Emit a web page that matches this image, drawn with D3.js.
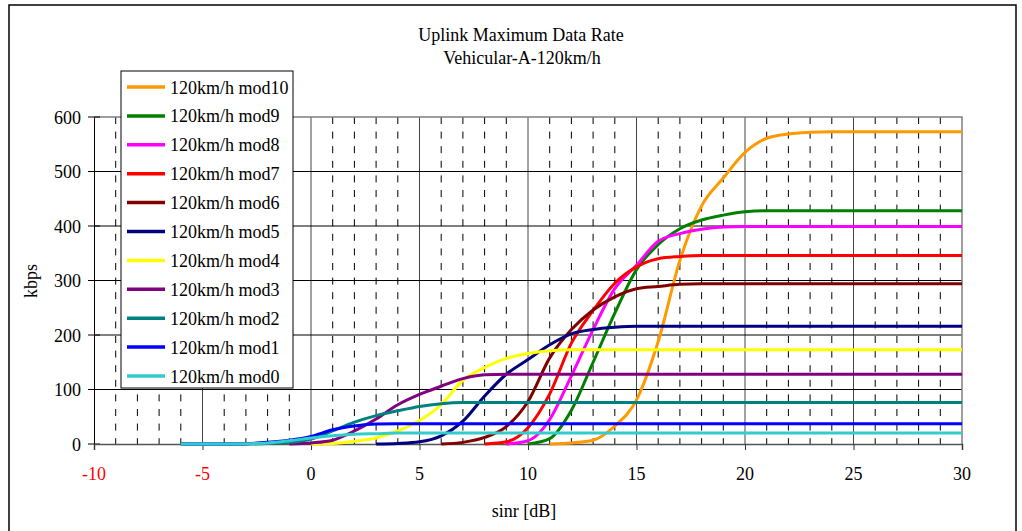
<!DOCTYPE html>
<html lang="en">
<head>
<meta charset="UTF-8">
<title>Uplink Maximum Data Rate</title>
<script src="https://d3js.org/d3.v7.min.js"></script>
<style>
    body { margin: 0; background: #fff; }
    text { font-family: "Liberation Serif", "Times New Roman", serif; fill: #000; }
</style>
</head>
<body>
<div id="chart"></div>

<script>
    // sinr grid (dB), one point per dB
    var sinr = [-6,-5,-4,-3,-2,-1,0,1,2,3,4,5,6,7,8,9,10,11,12,13,14,15,16,17,18,19,20,21,22,23,24,25,26,27,28,29,30];

    var mod0  = [0,0,0,0.5,2,6,11,15,18,19,20, 20,20,20,20,20,20,20,20,20,20,20,20,20,20,20,20,20,20,20,20,20,20,20,20,20,20];
    var mod1  = [0,0,0,0.5,3,7,14,26,33,36.5,37, 37,37,37,37,37,37,37,37,37,37,37,37,37,37,37,37,37,37,37,37,37,37,37,37,37,37];
    var mod2  = [0,0,0,0,1,3,9,24,40,52,61,69,74,76, 76,76,76,76,76,76,76,76,76,76,76,76,76,76,76,76,76,76,76,76,76,76,76];
    var mod3  = [null,null,null,null,null, 0,2,7,24,46,72,91,106,120,127,128, 128,128,128,128,128,128,128,128,128,128,128,128,128,128,128,128,128,128,128,128,128];
    var mod4  = [null,null,null,null,null,null, 0,1,5,11,24,43,72,117,140,157,166,171,173, 173,173,173,173,173,173,173,173,173,173,173,173,173,173,173,173,173,173];
    var mod5  = [null,null,null,null,null,null,null,null,null, 0,1,4,15,42,88,128,155,182,202,210,214,216, 216,216,216,216,216,216,216,216,216,216,216,216,216,216,216];
    var mod6  = [null,null,null,null,null,null,null,null,null,null,null,null, 0,3,12,32,78,158,210,246,270,285,289,293,294, 294,294,294,294,294,294,294,294,294,294,294,294];
    var mod7  = [null,null,null,null,null,null,null,null,null,null,null,null,null,null, 0,4,30,92,185,245,295,325,340,344,346, 346,346,346,346,346,346,346,346,346,346,346,346];
    var mod8  = [null,null,null,null,null,null,null,null,null,null,null,null,null,null,null, 0,6,45,125,210,285,328,372,386,394,398,399, 399,399,399,399,399,399,399,399,399,399];
    var mod9  = [null,null,null,null,null,null,null,null,null,null,null,null,null,null,null,null, 0,10,62,150,240,320,366,395,411,420,426,428, 428,428,428,428,428,428,428,428,428];
    var mod10 = [null,null,null,null,null,null,null,null,null,null,null,null,null,null,null,null,null, 0,2,7,33,81,188,337,437,488,535,561,569,572,573, 573,573,573,573,573,573];

    var seriesNames = ["120km/h mod10","120km/h mod9","120km/h mod8","120km/h mod7","120km/h mod6","120km/h mod5",
                       "120km/h mod4","120km/h mod3","120km/h mod2","120km/h mod1","120km/h mod0"];
    var seriesValues = [mod10, mod9, mod8, mod7, mod6, mod5, mod4, mod3, mod2, mod1, mod0];
    var seriesColors = ["#FF9900","#008000","#FF00FF","#FF0000","#800000","#000080",
                        "#FFFF00","#800080","#008080","#0000FF","#33CCCC"];

    var xTicks = [-10,-5,0,5,10,15,20,25,30];
    var yTicks = [0,100,200,300,400,500,600];

    var w = 1022;
    var h = 531;

    var svg = d3.select("#chart")
                .append("svg")
                .attr("width", w)
                .attr("height", h);

    // outer chart frame
    svg.append("rect")
       .attr("x", 9).attr("y", 5)
       .attr("width", 1007).attr("height", 540)
       .attr("fill", "none").attr("stroke", "#000").attr("stroke-width", 1.5);

    var x = d3.scaleLinear().domain([-10, 30]).range([94, 962]);
    var y = d3.scaleLinear().domain([0, 600]).range([444, 117]);

    // minor vertical gridlines (dashed, every dB)
    var minor = d3.range(-9, 30).filter(function(v) { return v % 5 !== 0; });
    svg.append("g").selectAll("line")
       .data(minor).enter().append("line")
       .attr("x1", function(d) { return x(d); })
       .attr("x2", function(d) { return x(d); })
       .attr("y1", y(600)).attr("y2", y(0))
       .attr("stroke", "#000").attr("stroke-width", 1)
       .attr("stroke-dasharray", "7,7.6");

    // major vertical gridlines
    svg.append("g").selectAll("line")
       .data(xTicks.slice(1, -1)).enter().append("line")
       .attr("x1", function(d) { return x(d); })
       .attr("x2", function(d) { return x(d); })
       .attr("y1", y(600)).attr("y2", y(0))
       .attr("stroke", "#444").attr("stroke-width", 1);

    // horizontal gridlines
    svg.append("g").selectAll("line")
       .data(yTicks.slice(1, -1)).enter().append("line")
       .attr("x1", x(-10)).attr("x2", x(30))
       .attr("y1", function(d) { return y(d); })
       .attr("y2", function(d) { return y(d); })
       .attr("stroke", "#000").attr("stroke-width", 1);

    // plot area border top/right
    svg.append("path")
       .attr("d", "M" + x(-10) + "," + y(600) + "H" + x(30) + "V" + y(0))
       .attr("fill", "none").attr("stroke", "#808080").attr("stroke-width", 1.5);

    // axes
    var yAxis = d3.axisLeft(y).tickValues(yTicks).tickSize(0).tickFormat("");
    svg.append("g").attr("transform", "translate(" + x(-10) + ",0)").call(yAxis)
       .select(".domain").attr("stroke", "#000");
    svg.append("g").selectAll("line")
       .data(yTicks).enter().append("line")
       .attr("x1", x(-10) - 6).attr("x2", x(-10) + 6)
       .attr("y1", function(d) { return y(d); })
       .attr("y2", function(d) { return y(d); })
       .attr("stroke", "#000");
    svg.append("g").selectAll("text")
       .data(yTicks).enter().append("text")
       .attr("x", 81)
       .attr("y", function(d) { return y(d) + 6.5; })
       .attr("text-anchor", "end")
       .style("font-size", "18px")
       .text(function(d) { return d; });

    var xAxis = d3.axisBottom(x).tickValues(xTicks).tickSize(6).tickFormat("");
    var xg = svg.append("g").attr("transform", "translate(0," + y(0) + ")").call(xAxis);
    xg.select(".domain").attr("stroke", "#555").attr("stroke-width", 1.5);
    xg.selectAll(".tick line").attr("stroke", "#333");
    svg.append("g").selectAll("text")
       .data(xTicks).enter().append("text")
       .attr("x", function(d) { return x(d); })
       .attr("y", 480)
       .attr("text-anchor", "middle")
       .style("font-size", "18px")
       .style("fill", function(d) { return d < 0 ? "#FF0000" : "#000"; })
       .text(function(d) { return d; });

    // series lines
    var line = d3.line()
                 .defined(function(d) { return d[1] != null; })
                 .x(function(d) { return x(d[0]); })
                 .y(function(d) { return y(d[1]); })
                 .curve(d3.curveMonotoneX);

    seriesValues.forEach(function(vals, i) {
        var pts = sinr.map(function(s, j) { return [s, vals[j]]; });
        svg.append("path")
           .datum(pts)
           .attr("d", line)
           .attr("fill", "none")
           .attr("stroke", seriesColors[i])
           .attr("stroke-width", 3)
           .attr("stroke-linejoin", "round");
    });

    // titles
    svg.append("text").attr("x", 521).attr("y", 41).attr("text-anchor", "middle")
       .style("font-size", "18px").text("Uplink Maximum Data Rate");
    svg.append("text").attr("x", 522).attr("y", 64).attr("text-anchor", "middle")
       .style("font-size", "18px").text("Vehicular-A-120km/h");
    svg.append("text").attr("x", 524).attr("y", 517).attr("text-anchor", "middle")
       .style("font-size", "18px").text("sinr [dB]");
    svg.append("text").attr("transform", "translate(37,281) rotate(-90)").attr("text-anchor", "middle")
       .style("font-size", "18px").text("kbps");

    // legend
    var lg = svg.append("g");
    lg.append("rect")
      .attr("x", 121).attr("y", 71).attr("width", 172).attr("height", 317)
      .attr("fill", "#fff").attr("stroke", "#000").attr("stroke-width", 1);
    var items = lg.selectAll("g.item")
      .data(seriesNames).enter().append("g")
      .attr("class", "item")
      .attr("transform", function(d, i) { return "translate(0," + (87 + i * 28.9) + ")"; });
    items.append("line")
      .attr("x1", 127).attr("x2", 165)
      .attr("stroke", function(d, i) { return seriesColors[i]; })
      .attr("stroke-width", 3.5);
    items.append("text")
      .attr("x", 170).attr("y", 6.5)
      .style("font-size", "18px")
      .text(function(d) { return d; });
</script>
</body>
</html>
